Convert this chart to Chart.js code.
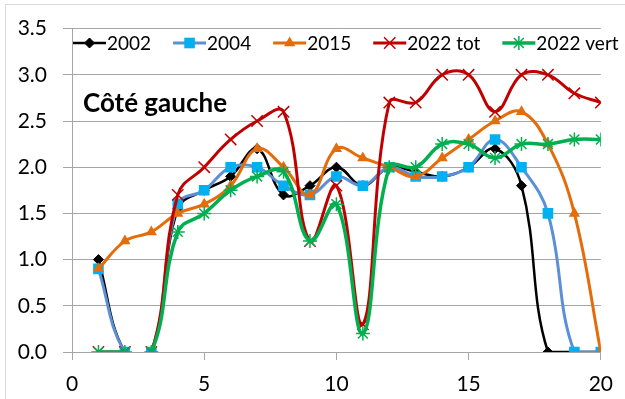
<!DOCTYPE html>
<html>
<head>
<meta charset="utf-8">
<script src="https://cdn.jsdelivr.net/npm/chart.js@4/dist/chart.umd.min.js"></script>
<style>
  html, body { margin: 0; padding: 0; background: #ffffff; }
  canvas { display: block; }
</style>
</head>
<body>
<canvas id="c" width="625" height="399"></canvas>
<script>
// Position along the side (x) and measured values per campaign
const positions = [1, 2, 3, 4, 5, 6, 7, 8, 9, 10, 11, 12, 13, 14, 15, 16, 17, 18, 19, 20];
const v2002     = [1.0, 0, 0, 1.55, 1.75, 1.9, 2.2, 1.7, 1.8, 2.0, 1.8, 2.0, 1.95, 1.9, 2.0, 2.2, 1.8, 0, 0, 0];
const v2004     = [0.9, 0, 0, 1.6, 1.75, 2.0, 2.0, 1.8, 1.7, 1.9, 1.8, 2.0, 1.9, 1.9, 2.0, 2.3, 2.0, 1.5, 0, 0];
const v2015     = [0.9, 1.2, 1.3, 1.5, 1.6, 1.8, 2.2, 2.0, 1.7, 2.2, 2.1, 2.0, 1.9, 2.1, 2.3, 2.5, 2.6, 2.25, 1.5, 0];
const v2022tot  = [0, 0, 0, 1.7, 2.0, 2.3, 2.5, 2.6, 1.2, 1.8, 0.3, 2.7, 2.7, 3.0, 3.0, 2.6, 3.0, 3.0, 2.8, 2.7];
const v2022vert = [0, 0, 0, 1.3, 1.5, 1.75, 1.9, 1.95, 1.2, 1.6, 0.2, 2.0, 2.0, 2.25, 2.25, 2.1, 2.25, 2.25, 2.3, 2.3];

const seriesNames = ['2002', '2004', '2015', '2022 tot', '2022 vert'];
const xTicks = [0, 5, 10, 15, 20];
const yTicks = [0, 0.5, 1.0, 1.5, 2.0, 2.5, 3.0, 3.5];
const chartTitle = 'Côté gauche';

const FONT = 'Lato, "Liberation Sans", sans-serif';
const GRID = '#a6a6a6';

function toXY(vals) {
  return vals.map((v, i) => ({ x: positions[i], y: v }));
}

// no line between the 2nd and 3rd position (empty stretch)
const skipGap = { borderColor: ctx => (ctx.p0.parsed.x === 2 ? 'rgba(0,0,0,0)' : undefined) };

const styles = [
  { line: '#000000', fill: '#000000', point: 'rectRot', r: 5, bw: 1, lw: 2.5, gap: true },
  { line: '#5b8fd6', fill: '#00b0f0', point: 'rect', r: 7.5, bw: 0, lw: 3, gap: true },
  { line: '#e46c0a', fill: '#e46c0a', point: 'triangle', r: 6.5, bw: 0, lw: 3, gap: false },
  { line: '#c00000', fill: '#c00000', point: 'crossRot', r: 8, bw: 1.5, lw: 3, gap: true },
  { line: '#00b050', fill: '#00b050', point: 'star', r: 7, bw: 1.5, lw: 3.5, gap: true }
];
const seriesValues = [v2002, v2004, v2015, v2022tot, v2022vert];

const datasets = seriesValues.map((vals, i) => {
  const s = styles[i];
  return {
    label: seriesNames[i],
    data: toXY(vals),
    borderColor: s.line,
    backgroundColor: s.fill,
    borderWidth: s.lw,
    pointStyle: s.point,
    pointRadius: s.r,
    pointHoverRadius: s.r,
    pointBackgroundColor: s.fill,
    pointBorderColor: s.fill,
    pointBorderWidth: s.bw,
    tension: 0.4,
    fill: false,
    order: seriesValues.length - i,
    segment: s.gap ? skipGap : {}
  };
});

const framePlugin = {
  id: 'frame',
  beforeDraw(chart) {
    const ctx = chart.ctx;
    ctx.save();
    ctx.fillStyle = '#ffffff';
    ctx.fillRect(0, 0, chart.width, chart.height);
    ctx.strokeStyle = '#d9d9d9';
    ctx.lineWidth = 1;
    ctx.strokeRect(5.5, 4.5, chart.width + 10, chart.height + 10);
    ctx.restore();
  }
};

function drawMarker(ctx, s, x, y) {
  const h = Chart.helpers;
  ctx.fillStyle = s.fill;
  ctx.strokeStyle = s.fill;
  ctx.lineWidth = s.bw;
  if (h && h.drawPoint) {
    h.drawPoint(ctx, { pointStyle: s.point, radius: s.r, rotation: 0, borderWidth: s.bw }, x, y);
  } else {
    ctx.beginPath();
    ctx.arc(x, y, s.r * 0.7, 0, Math.PI * 2);
    ctx.fill();
  }
}

const legendTitlePlugin = {
  id: 'legendTitle',
  afterDraw(chart) {
    const ctx = chart.ctx;
    ctx.save();
    // legend row inside the plot
    const legendFont = '19px ' + FONT;
    ctx.textBaseline = 'middle';
    ctx.textAlign = 'left';
    let x = 73;
    const y = 43;
    seriesNames.forEach((name, i) => {
      const s = styles[i];
      ctx.strokeStyle = s.line;
      ctx.lineWidth = s.lw;
      ctx.beginPath();
      ctx.moveTo(x, y);
      ctx.lineTo(x + 33, y);
      ctx.stroke();
      drawMarker(ctx, s, x + 16.5, y);
      ctx.fillStyle = '#000000';
      ctx.font = legendFont;
      ctx.fillText(name, x + 34, y + 1);
      x += 34 + ctx.measureText(name).width + 22;
    });
    // title
    ctx.font = 'bold 26px ' + FONT;
    ctx.textBaseline = 'alphabetic';
    ctx.fillStyle = '#000000';
    ctx.fillText(chartTitle, 83, 112);
    ctx.restore();
  }
};

new Chart(document.getElementById('c'), {
  type: 'line',
  data: { datasets },
  plugins: [framePlugin, legendTitlePlugin],
  options: {
    responsive: false,
    animation: false,
    events: [],
    layout: { padding: { left: 0, right: 17, top: 20, bottom: 0 } },
    plugins: { legend: { display: false }, tooltip: { enabled: false }, title: { display: false } },
    scales: {
      x: {
        type: 'linear',
        min: xTicks[0],
        max: xTicks[xTicks.length - 1],
        afterBuildTicks(scale) { scale.ticks = xTicks.map(v => ({ value: v })); },
        afterFit(scale) { scale.height = 47; },
        ticks: { color: '#000000', font: { family: FONT, size: 21 }, padding: 12, maxRotation: 0, autoSkip: false },
        grid: { drawOnChartArea: false, drawTicks: true, tickLength: 8, color: GRID },
        border: { display: true, color: GRID, width: 1 }
      },
      y: {
        min: yTicks[0],
        max: yTicks[yTicks.length - 1],
        afterBuildTicks(scale) { scale.ticks = yTicks.map(v => ({ value: v })); },
        afterFit(scale) { scale.width = 72; },
        ticks: {
          color: '#000000', font: { family: FONT, size: 21 }, padding: 16,
          callback: v => Number(v).toFixed(1)
        },
        grid: { color: GRID, tickLength: 9, drawTicks: true },
        border: { display: true, color: GRID, width: 1 }
      }
    }
  }
});
</script>
</body>
</html>
